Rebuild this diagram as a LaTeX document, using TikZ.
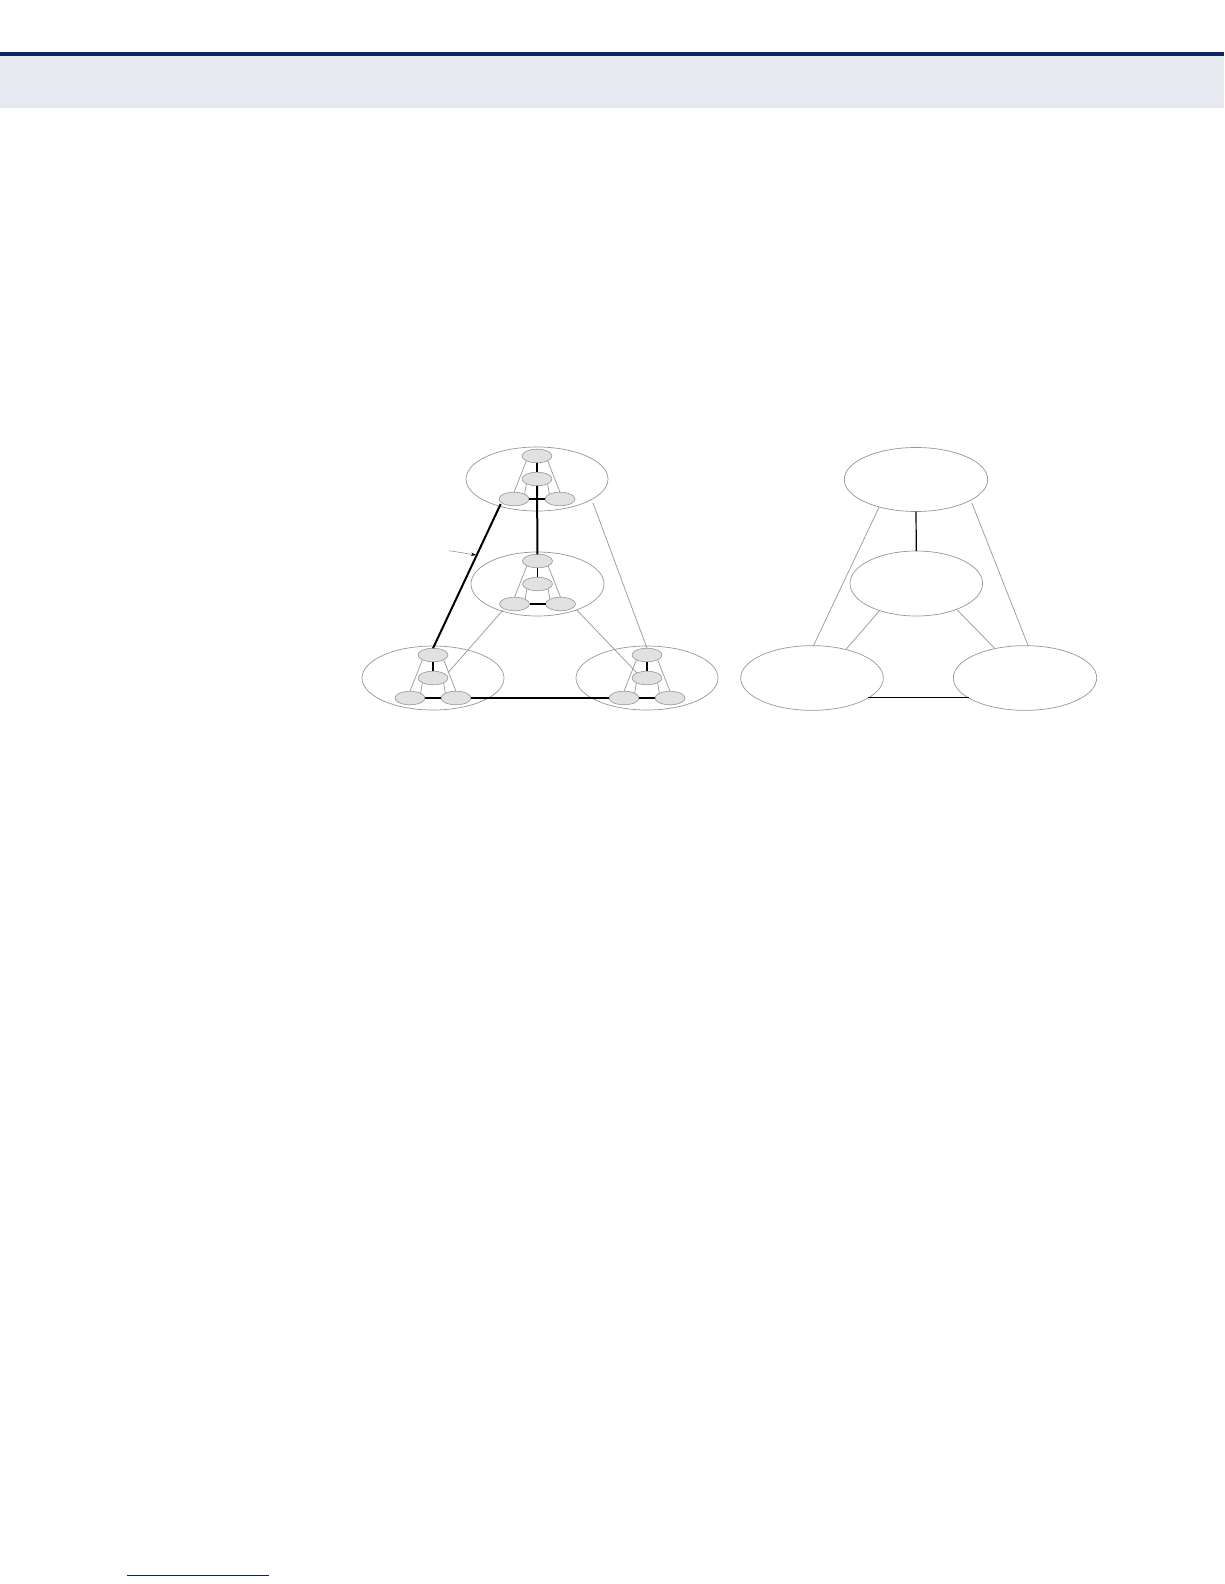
\documentclass[tikz,border=0pt]{standalone}
\usepackage{tikz}
\usetikzlibrary{shapes.geometric,arrows.meta,calc}
\definecolor{bandnavy}{RGB}{12,36,100}
\definecolor{bandgray}{RGB}{230,233,239}
\definecolor{devfill}{RGB}{225,225,225}
\definecolor{rimgray}{RGB}{150,150,150}

\begin{document}
\begin{tikzpicture}[x=1pt, y=-1pt,
    ring/.style={ellipse, draw=rimgray, line width=0.7pt, minimum height=64pt, inner sep=0pt, outer sep=0pt},
    dev/.style={ellipse, draw=rimgray, fill=devfill, line width=0.6pt, minimum width=30pt, minimum height=13.5pt, inner sep=0pt, outer sep=0pt},
    link/.style={rimgray, line width=0.7pt},
    trunk/.style={black, line width=1.2pt},
    heavy/.style={black, line width=2pt}]
    \useasboundingbox (0,0) rectangle (1224,1584);

    % Draw the page header
    \fill[bandgray] (0,56) rectangle (1224,108.5);
    \fill[bandnavy] (0,52) rectangle (1224,56);

    % Draw the four device rings
    \foreach \n/\x/\y/\w in {t/537/479/142, m/537.5/584/133, l/433/678/142, r/647/678/142} {
        \node[ring, minimum width=\w] (\n) at (\x,\y) {};
        \node[dev] (\n-a) at (\x,\y-23) {};
        \node[dev] (\n-b) at (\x,\y) {};
        \node[dev] (\n-l) at (\x-23,\y+20) {};
        \node[dev] (\n-r) at (\x+23,\y+20) {};
        \draw[link] (\n-a.south west) -- (\n-l.north) (\n-a.south east) -- (\n-r.north)
                    (\n-b.south west) -- (\n-l.north east) (\n-b.south east) -- (\n-r.north west);
        \draw[trunk] (\n-a) -- (\n-b) (\n-l) -- (\n-r);
    }

    % Draw links between the rings
    \draw[heavy] (t-b) -- (m-a);
    \draw[heavy] ($(t-l)+(-13.3,5)$) -- (l-a.north);
    \draw[link] ($(t)+(56,24)$) -- (r-a.north);
    \draw[link] ($(m-l)+(-11.5,6)$) -- ($(l-b)+(15,-5.3)$);
    \draw[link] ($(m-r)+(16.2,6)$) -- ($(r-b)+(-10,-5)$);
    \draw[trunk] (l-r) -- (r-l);

    % Draw the pointer
    \coordinate (tail) at (449.3,550.7);
    \draw[rimgray, line width=0.6pt, -{Stealth[black, length=5pt, width=3.5pt]}] (tail) -- (476,555);

    % Draw the collapsed domains
    \node[ring, minimum width=143.4pt] (dt) at (916,479.5) {};
    \node[ring, minimum width=132.6pt, minimum height=65pt] (dm) at (916.3,583.5) {};
    \node[ring, minimum width=142.6pt, minimum height=64.7pt] (dl) at (812,678) {};
    \node[ring, minimum width=143.4pt, minimum height=64.7pt] (dr) at (1025,678) {};
    \draw[trunk] (dt.south) -- (dm.north);
    \draw[link] ($(dt)+(-37,27.8)$) -- ($(dl)+(1.3,-32)$);
    \draw[link] ($(dt)+(55.7,23.2)$) -- ($(dr)+(3.3,-32)$);
    \draw[link] ($(dm)+(-37,27.5)$) -- ($(dl)+(34,-28.7)$);
    \draw[link] ($(dm)+(41,26.5)$) -- ($(dr)+(-30,-29.3)$);
    \draw[trunk] ($(dl)+(56.3,19.7)$) -- ($(dr)+(-55.7,19.7)$);

    % Draw the footer rule
    \draw[bandnavy, line width=1pt] (127,1575) -- (269,1575);
\end{tikzpicture}
\end{document}
